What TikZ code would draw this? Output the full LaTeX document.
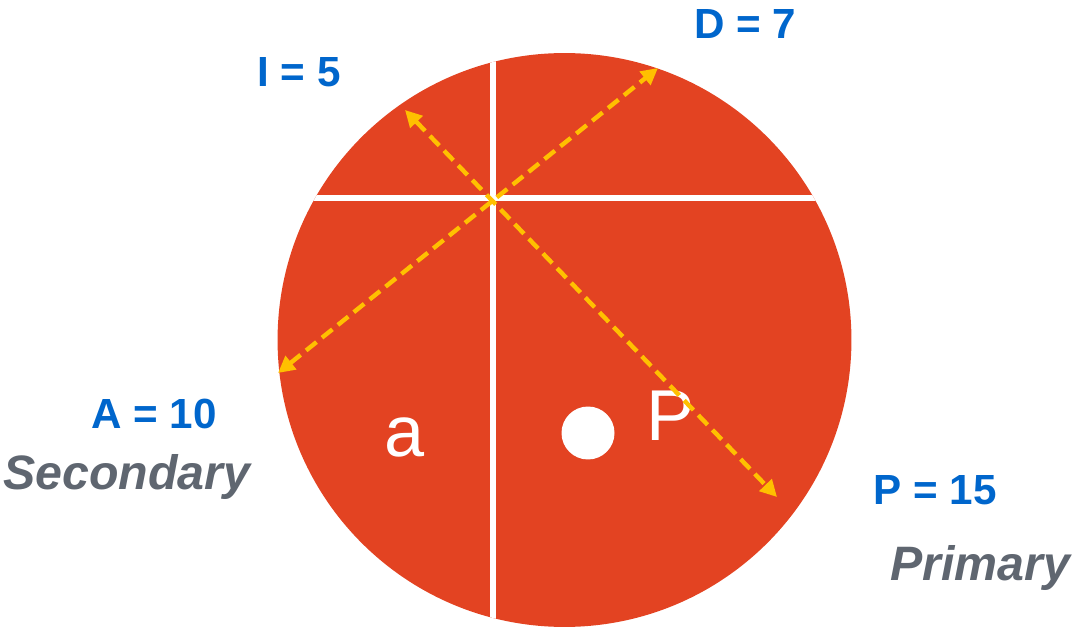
\documentclass[tikz,border=0pt]{standalone}
\usepackage{fontspec}
\setmainfont{Liberation Sans}
\usetikzlibrary{arrows.meta}
\definecolor{discred}{HTML}{E34322}
\definecolor{valueblue}{HTML}{0066CC}
\definecolor{rolegray}{HTML}{5F6670}
\definecolor{axisyellow}{HTML}{FFC000}
\tikzset{
  valuelabel/.style={text=valueblue, inner sep=0pt, font=\fontsize{24}{28}\selectfont\bfseries},
  rolelabel/.style={text=rolegray, inner sep=0pt, font=\fontsize{27.5}{32}\selectfont\bfseries\itshape},
  disclabel/.style={text=white, inner sep=0pt, font=\fontsize{41}{46}\selectfont},
  divider/.style={white, line width=3.4pt},
  axisline/.style={<->, axisyellow, line width=2.5pt, dash pattern=on 7.6pt off 4pt}
}
\begin{document}
\begin{tikzpicture}[x=0.02cm, y=-0.02cm, >={Triangle[length=9.5pt, width=9.5pt]}]
        \useasboundingbox (0,0) rectangle (1075,628);

        \fill[discred] (564.5,340) circle (5.74cm);
        \begin{scope}
          \clip (564.5,340) circle (5.74cm);
          \draw[divider] (493,40) -- (493,640);
          \draw[divider] (250,198) -- (880,198);
        \end{scope}

        \fill[white] (588,433) circle (0.53cm);
        \node[disclabel] (sidea) at (405,437) {a};
        \node[disclabel] (sidep) at (671,416) {P};

        \coordinate (iend) at (405,110);
        \coordinate (pend) at (777,497);
        \coordinate (aend) at (278,373);
        \coordinate (dend) at (658,68);
        \draw[axisline] (iend) -- (pend);
        \draw[axisline] (aend) -- (dend);

        \node[valuelabel] (dval) at (745,24) {D = 7};
        \node[valuelabel] (ival) at (299,72) {I = 5};
        \node[valuelabel] (aval) at (154,414) {A = 10};
        \node[valuelabel] (pval) at (935,490) {P = 15};
        \node[rolelabel] (secondary) at (127,477) {Secondary};
        \node[rolelabel] (primary) at (980,568) {Primary};

      \end{tikzpicture}
\end{document}
